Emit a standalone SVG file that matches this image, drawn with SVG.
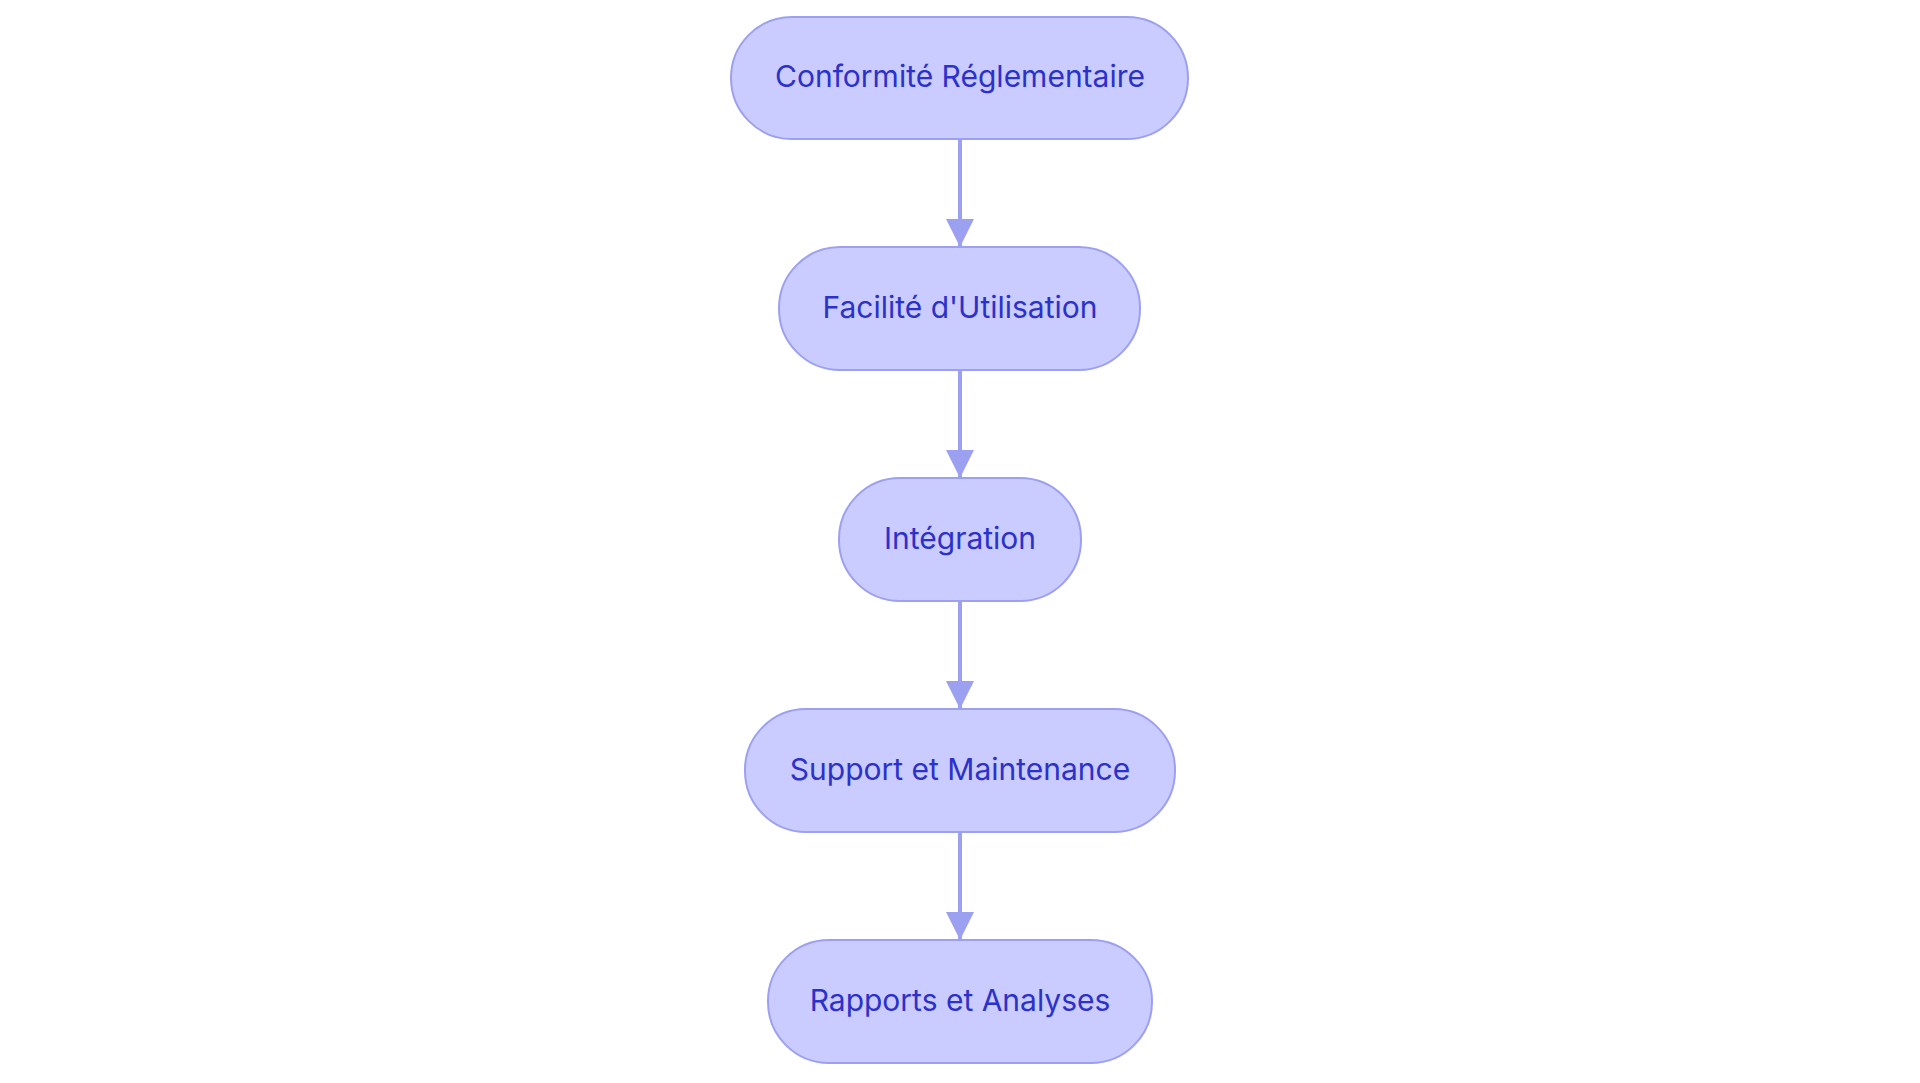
<svg xmlns="http://www.w3.org/2000/svg" width="1920" height="1083" viewBox="0 0 1920 1083">
<style>
.node rect{fill:#cacbfe;stroke:#9ca0f0;stroke-width:2}
.node text{font-family:Inter,"Noto Sans",sans-serif;font-size:30px;font-weight:400;fill:#2b31c9;text-anchor:middle}
.edge{stroke:#9ca0f0;stroke-width:4;fill:none}
</style>
<defs>
<marker id="arr" markerUnits="userSpaceOnUse" markerWidth="28" markerHeight="28" refX="26" refY="13" orient="auto" viewBox="0 0 26 26">
<path d="M0,0 L26,13 L0,26 z" fill="#9ca0f0"/>
</marker>
</defs>
<rect width="1920" height="1083" fill="#ffffff"/>
<g id="connectors">
<path class="edge" d="M960,139 L960,247" marker-end="url(#arr)"/>
<path class="edge" d="M960,370 L960,478" marker-end="url(#arr)"/>
<path class="edge" d="M960,601 L960,709" marker-end="url(#arr)"/>
<path class="edge" d="M960,832 L960,940" marker-end="url(#arr)"/>
</g>
<g id="n1" class="node"><rect x="731" y="17" width="457" height="122" rx="61"/><text x="960" y="87">Conformité Réglementaire</text></g>
<g id="n2" class="node"><rect x="779" y="247" width="361" height="123" rx="61"/><text x="960" y="318">Facilité d'Utilisation</text></g>
<g id="n3" class="node"><rect x="839" y="478" width="242" height="123" rx="61"/><text x="960" y="549">Intégration</text></g>
<g id="n4" class="node"><rect x="745" y="709" width="430" height="123" rx="61"/><text x="960" y="780">Support et Maintenance</text></g>
<g id="n5" class="node"><rect x="768" y="940" width="384" height="123" rx="61"/><text x="960" y="1011">Rapports et Analyses</text></g>
</svg>
